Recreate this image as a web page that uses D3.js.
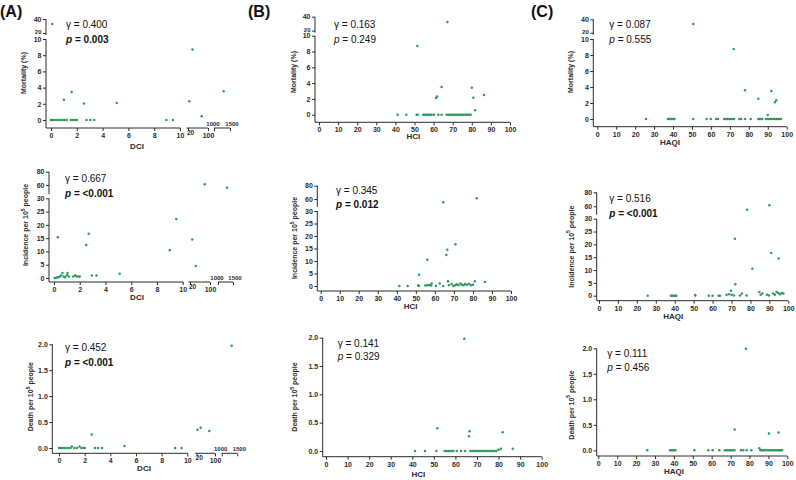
<!DOCTYPE html>
<html><head><meta charset="utf-8">
<script src="https://cdn.jsdelivr.net/npm/d3@7/dist/d3.min.js"></script>
<style>body{margin:0;background:#fff}svg{display:block;font-family:Arial,"Liberation Sans",sans-serif}</style>
</head><body>
<svg id="chart" width="796" height="480"></svg>
<script>
// ---------- tick labels ----------
const mortTicksLow = [0, 2, 4, 6, 8, 10];
const mortTicksHigh = [20, 40];
const incTicksLow = [0, 5, 10, 15, 20, 25, 30];
const incTicksHigh = [60, 80];
const deathTicks = [0, 0.5, 1.0, 1.5, 2.0];
const dciTicks1 = [0, 2, 4, 6, 8, 10];
const dciTicks2 = [20, 100];
const dciTicks3 = [1000, 1500];
const indexTicks = [0, 10, 20, 30, 40, 50, 60, 70, 80, 90, 100];

// ---------- statistics ----------
const panelIds = ["A1","A2","A3","B1","B2","B3","C1","C2","C3"];
const gammaValues = ["0.400","0.667","0.452","0.163","0.345","0.141","0.087","0.516","0.111"];
const pValues = ["0.003","<0.001","<0.001","0.249","0.012","0.329","0.555","<0.001","0.456"];
const pSignificant = [true, true, true, false, true, false, false, true, false];

// ---------- data [x, y] ----------
const dciMortality = [
  [0.1,33],[1.0,2.5],[1.6,3.45],[2.55,2.05],[5.1,2.1],[25,2.3],[38,8.7],[75,0.45],[1300,3.55],
  [0,0],[0.15,0],[0.3,0],[0.45,0],[0.6,0],[0.75,0],[0.9,0],[1.05,0],[1.2,0],[1.55,0],[1.7,0],[1.85,0],[2.0,0],
  [2.75,0],[3.05,0],[3.35,0],[8.95,0],[9.45,0]
];
const dciIncidence = [
  [0.3,15.3],[2.5,12.4],[2.7,16.7],[5.1,1.6],[2.95,0.9],[3.3,0.9],[9.0,10.4],[9.5,22.2],[29,14.5],[43,4.5],[79,61],[1300,56],
  [0.05,0],[0.15,0],[0.25,0.3],[0.35,0.3],[0.45,0.6],[0.55,0.9],[0.65,1.9],[0.75,0.6],[0.85,0.3],[1.0,1.0],[1.05,1.9],
  [1.15,0.6],[1.5,0.6],[1.65,1.0],[1.75,0.6],[1.9,0.6],[2.0,0.6]
];
const dciDeath = [
  [2.55,0.26],[5.1,0.04],[1.0,0.03],[1.6,0.03],[23,0.35],[37,0.39],[75,0.33],[1320,1.97],
  [0,0],[0.15,0],[0.3,0],[0.45,0],[0.6,0],[0.75,0],[0.9,0],[1.2,0],[1.4,0],[1.75,0],[1.9,0],[2.0,0],
  [2.8,0],[3.05,0],[3.35,0],[9.05,0],[9.55,0]
];
const hciMortality = [
  [67.2,32.4],[51.5,8.7],[64.2,3.5],[61.3,2.1],[61.8,2.3],[80,3.4],[80.8,2.15],[86.4,2.5],[81.7,0.55],
  [41.2,0],[45.7,0],[51.1,0],[51.7,0],[54.6,0],[55.5,0],[56.3,0],[57.2,0],[58.1,0],[59,0],[60.2,0],[62.5,0],[64.2,0],
  [66.8,0],[67.7,0],[68.6,0],[69.5,0],[70.4,0],[71.3,0],[72.2,0],[73.1,0],[74,0],[74.9,0],[75.8,0],[76.7,0],[77.6,0],[78.5,0],[79.4,0]
];
const hciIncidence = [
  [64.4,55],[82,61],[70.8,16.7],[66.5,14.5],[66,12.4],[56,10.5],[51.7,4.5],[86.3,1.6],
  [41.3,0],[45.7,0],[51.3,0.3],[51.6,0],[55,0.2],[56,0.3],[57,0.4],[58,0.2],[58.3,1.0],[60.6,0],[62.5,1.0],[64.4,0],
  [66.9,1.9],[67.4,0.3],[68.8,0.8],[69.7,0],[70.6,0.3],[71.5,0.7],[72.4,0.3],[73.4,1.0],[74.1,0.5],[75,0.3],
  [75.9,0.8],[76.8,0.5],[78,0.8],[79,0.3],[80,0.5],[81,1.9]
];
const hciDeath = [
  [64.1,1.98],[51.6,0.4],[66.3,0.26],[66.6,0.35],[81.9,0.33],[86.6,0.04],[81.1,0.04],[80,0.02],
  [41.3,0],[45.9,0],[51.2,0],[55,0],[55.8,0],[56.6,0],[57.4,0],[58.2,0],[59,0],[60.6,0],[62.6,0],[64.4,0],
  [67,0],[67.8,0],[68.6,0],[69.4,0],[70.2,0],[71,0],[71.8,0],[72.6,0],[73.4,0],[74.2,0],[75,0],[75.8,0],[76.6,0],[77.4,0],[78.2,0],[79,0]
];
const haqiMortality = [
  [50.7,33],[72,8.75],[78,3.58],[91.9,3.5],[85,2.54],[94.5,2.33],[93.8,2.1],[90,0.5],
  [25.7,0],[37.3,0],[38,0],[38.7,0],[39.4,0],[40.1,0],[40.8,0],[50.7,0],[57.7,0],[59.9,0],[62.8,0],[63.7,0],
  [67,0],[67.9,0],[68.8,0],[69.7,0],[70.6,0],[71.5,0],[72.2,0],[75,0],[76,0],[78,0],[81,0],
  [85,0],[85.7,0],[86.4,0],[87.1,0],[89,0],[89.8,0],[90.6,0],[91.4,0],[92.2,0],[93,0],[93.8,0],[94.6,0],[95.4,0],[96.2,0],[97,0]
];
const haqiIncidence = [
  [78.2,55.2],[90,61.4],[71.8,22.2],[91,16.6],[94.9,14.5],[81,10.5],[72,4.5],
  [25.7,0],[38,0],[38.7,0],[39.4,0],[40.1,0],[40.8,0],[50.9,0.1],[50.7,0.3],[58,0],[60,0],[63.2,0],[63.9,0],
  [67.4,0.4],[68.7,0.6],[69.7,1.9],[70.1,0.4],[71.3,0.1],[74.5,0.1],[75.5,0.9],[78,0.1],[84.7,1.4],[85.4,0.4],
  [86.3,0.9],[88.7,0.4],[89.8,0.1],[92,0.9],[92.9,0.4],[93.8,1.4],[94.7,1.1],[95.6,0.6],[96.5,1.1],[97.4,0.9]
];
const haqiDeath = [
  [78.1,1.99],[72.1,0.41],[90.3,0.33],[95.4,0.35],[85.2,0.04],
  [25.9,0],[38,0],[38.7,0],[39.4,0],[40.1,0],[40.8,0],[50.8,0],[58.2,0],[60.5,0],[64,0],[67,0],[67.8,0],[68.6,0],
  [69.4,0],[70.2,0],[71,0],[72,0],[75.5,0],[76.7,0],[78.5,0],[81,0],[85.8,0],[86.5,0],[87.2,0],[88,0],[89,0],
  [90,0],[90.8,0],[91.6,0],[92.4,0],[93.2,0],[94,0],[94.8,0],[95.6,0],[96.4,0],[97.2,0]
];

// ---------- layout ----------
const svg = d3.select("#chart");
svg.append("rect").attr("width", 796).attr("height", 480).attr("fill", "#ffffff");
const INK = "#2b2b2b", DOT = "#2e9a5c";

function dciX(r1, r2, r3, yAxisX) {
  return [
    {dom:[0,10], rng:r1, ticks:dciTicks1, from:yAxisX, to:r1[1]+0.5},
    {dom:[20,100], rng:r2, ticks:dciTicks2, from:r2[0]-1.5, to:r2[1], raise20:true},
    {dom:[1000,1500], rng:r3, ticks:dciTicks3, from:r3[0], to:r3[1], above:true}
  ];
}
function idxX(r, yAxisX) { return [{dom:[0,100], rng:r, ticks:indexTicks, from:yAxisX, to:r[1]}]; }
function mortY(low, high, xAxisY) {
  return [{dom:[0,10], rng:low, ticks:mortTicksLow, top:low[1], bottom:xAxisY},
          {dom:[20,40], rng:high, ticks:mortTicksHigh, top:high[1], bottom:high[0]+2, small:true}];
}
function incY(low, high, xAxisY) {
  return [{dom:[0,30], rng:low, ticks:incTicksLow, top:low[1], bottom:xAxisY},
          {dom:[60,80], rng:high, ticks:incTicksHigh, top:high[1], bottom:low[1]-4}];
}
function deathY(r, xAxisY) { return [{dom:[0,2], rng:r, ticks:deathTicks, top:r[1], bottom:xAxisY, fmt:d3.format(".1f")}]; }

const sup5 = "5";
const panels = [
  {data:dciMortality, yAxisX:46, xAxisY:128, ys:mortY([120,39],[33,19],128), xs:dciX([51,180],[188,208],[214,230],46),
   xt:"DCI", xtPos:[137,146], yt:"Mortality (%)", ytPos:[23,73], st:[66,27.5,43]},
  {data:dciIncidence, yAxisX:49, xAxisY:282, ys:incY([278,198.3],[185,171.7],282), xs:dciX([54,182.7],[190,210],[218,233],49),
   xt:"DCI", xtPos:[137,296.7], yt:"inc", ytPos:[25,225], st:[65,181.8,196.8]},
  {data:dciDeath, yAxisX:52.3, xAxisY:453.3, ys:deathY([448,344.3],453.3), xs:dciX([59,187.3],[196.7,215],[221.7,237.3],52.3),
   xt:"DCI", xtPos:[144,468], yt:"death", ytPos:[30,396.7], st:[65,350.8,366.2]},
  {data:hciMortality, yAxisX:315, xAxisY:122.3, ys:mortY([114.7,35.7],[30.7,16.7],122.3), xs:idxX([319,510],315),
   xt:"HCI", xtPos:[413.3,136], yt:"Mortality (%)", ytPos:[293.3,72], st:[334,27.5,42.8]},
  {data:hciIncidence, yAxisX:317.3, xAxisY:291, ys:incY([286,211],[199,185.7],291), xs:idxX([320.7,511],317.3),
   xt:"HCI", xtPos:[410.7,305.7], yt:"inc", ytPos:[294.3,238], st:[336,193.5,207.8]},
  {data:hciDeath, yAxisX:322.7, xAxisY:456.7, ys:deathY([451,337.7],456.7), xs:idxX([326,541.7],322.7),
   xt:"HCI", xtPos:[418.3,474], yt:"death", ytPos:[294.3,397], st:[337.7,346.8,360.2]},
  {data:haqiMortality, yAxisX:593.3, xAxisY:126.7, ys:mortY([119,39],[32.7,19.3],126.7), xs:idxX([597.3,786.7],593.3),
   xt:"HAQI", xtPos:[670,141.7], yt:"Mortality (%)", ytPos:[570,72], st:[609.3,27.5,42.8]},
  {data:haqiIncidence, yAxisX:596.7, xAxisY:300.7, ys:incY([295.7,218.7],[206.3,192.3],300.7), xs:idxX([599,788.3],596.7),
   xt:"HAQI", xtPos:[673.3,315.7], yt:"inc", ytPos:[570.7,246.7], st:[609.3,201.8,216.8]},
  {data:haqiDeath, yAxisX:596.7, xAxisY:456, ys:deathY([450.3,348.3],456), xs:idxX([598.3,787.3],596.7),
   xt:"HAQI", xtPos:[674,470.7], yt:"death", ytPos:[570.7,405], st:[607.3,356.8,371.2]}
];

function styleAxis(ga) {
  ga.select(".domain").remove();
  ga.selectAll(".tick line").attr("stroke", INK).attr("stroke-width", 1);
  ga.selectAll(".tick text").attr("fill", INK).attr("font-size", 7).attr("font-weight", "bold");
}

panels.forEach((p, i) => {
  const g = svg.append("g");
  const ys = p.ys.map(s => Object.assign({}, s, {scale: d3.scaleLinear().domain(s.dom).range(s.rng)}));
  const xs = p.xs.map(s => Object.assign({}, s, {scale: d3.scaleLinear().domain(s.dom).range(s.rng)}));
  const yOf = v => (ys.length > 1 && v > ys[0].dom[1] ? ys[1] : ys[0]).scale(v);
  const xOf = v => { let s = xs[0]; xs.forEach(t => { if (v >= t.dom[0]) s = t; }); return s.scale(v); };

  // y axis segments
  ys.forEach(s => {
    const ga = g.append("g").attr("transform", `translate(${p.yAxisX},0)`)
      .call(d3.axisLeft(s.scale).tickValues(s.ticks).tickSize(3).tickPadding(1.5).tickFormat(s.fmt || d3.format("d")));
    styleAxis(ga);
    if (s.small) ga.selectAll(".tick text").filter(d => d === 20).attr("font-size", 6).attr("dy", "0.1em");
    ga.append("line").attr("x1", 0).attr("x2", 0).attr("y1", s.top).attr("y2", s.bottom)
      .attr("stroke", INK).attr("stroke-width", 1);
  });
  // x axis segments
  xs.forEach(s => {
    const ga = g.append("g").attr("transform", `translate(0,${p.xAxisY})`)
      .call(d3.axisBottom(s.scale).tickValues(s.ticks).tickSize(3).tickPadding(2).tickFormat(d3.format("d")));
    styleAxis(ga);
    ga.append("line").attr("x1", s.from).attr("x2", s.to).attr("y1", 0).attr("y2", 0)
      .attr("stroke", INK).attr("stroke-width", 1);
    if (s.above) ga.selectAll(".tick text").attr("y", -2.5).attr("dy", 0).attr("font-size", 6)
      .attr("dx", d => d === 1000 ? -1.5 : 1.5);
    if (s.raise20) ga.selectAll(".tick text").filter(d => d === 20).attr("y", 2.5).attr("dx", 2).attr("font-size", 6.5);
  });

  // points
  g.append("g").selectAll("circle").data(p.data).join("circle")
    .attr("cx", d => xOf(d[0])).attr("cy", d => yOf(d[1])).attr("r", 1.25).attr("fill", DOT);

  // x title
  g.append("text").attr("x", p.xtPos[0]).attr("y", p.xtPos[1] + 3).attr("text-anchor", "middle")
    .attr("font-size", 8).attr("font-weight", "bold").attr("fill", INK).text(p.xt);

  // y title
  const yt = g.append("text").attr("transform", `translate(${p.ytPos[0]},${p.ytPos[1]}) rotate(-90)`)
    .attr("text-anchor", "middle").attr("dominant-baseline", "central")
    .attr("font-size", 7).attr("font-weight", "bold").attr("fill", INK);
  if (p.yt === "inc" || p.yt === "death") {
    yt.append("tspan").text(p.yt === "inc" ? "Incidence per 10" : "Death per 10");
    yt.append("tspan").attr("font-size", 5).attr("dy", -2.5).text(sup5);
    yt.append("tspan").attr("dy", 2.5).text(" people");
  } else {
    yt.text(p.yt);
  }

  // statistics
  g.append("text").attr("x", p.st[0]).attr("y", p.st[1]).attr("font-size", 10).attr("fill", "#111")
    .text("\u03B3 = " + gammaValues[i]);
  const pt = g.append("text").attr("x", p.st[0]).attr("y", p.st[2]).attr("font-size", 10).attr("fill", "#111")
    .attr("font-weight", pSignificant[i] ? "bold" : "normal");
  pt.append("tspan").attr("font-style", "italic").text("p");
  pt.append("tspan").text(" = " + pValues[i]);
});

// panel letters
[["(A)", 0], ["(B)", 248], ["(C)", 531]].forEach(([t, x]) => {
  svg.append("text").attr("x", x).attr("y", 17).attr("font-size", 16).attr("font-weight", "bold")
    .attr("fill", "#111").text(t);
});
</script>
</body></html>
